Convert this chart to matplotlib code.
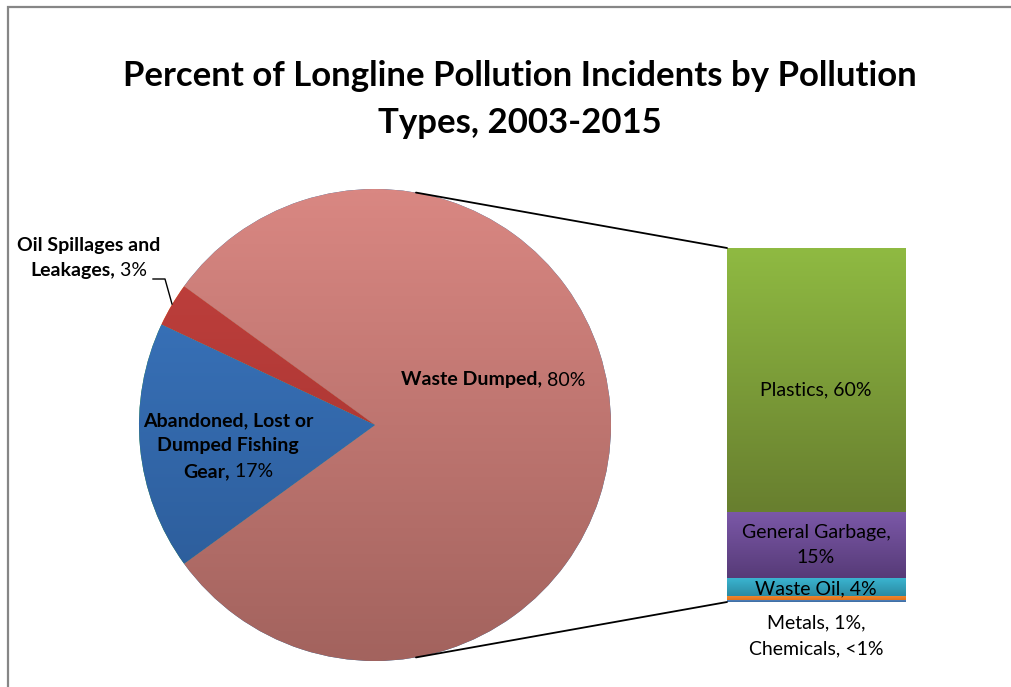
import numpy as np
import matplotlib
matplotlib.use("Agg")
import matplotlib.pyplot as plt
from matplotlib.patches import Rectangle, ConnectionPatch
from matplotlib.colors import to_rgb

plt.rcParams['font.family'] = ['Lato', 'DejaVu Sans']

# pie data (counterclockwise from the Waste Dumped slice)
pie_labels = ['Waste Dumped', 'Oil Spillages and Leakages', 'Abandoned, Lost or Dumped Fishing Gear']
pie_values = [80, 3, 17]
pie_top = ['#d98782', '#c4423f', '#3c79c4']
pie_bottom = ['#a3635e', '#9c2f2c', '#2a5893']

# bar data (bottom to top, breakdown of Waste Dumped)
bar_labels = ['Chemicals', 'Metals', 'Waste Oil', 'General Garbage', 'Plastics']
bar_values = [0.4, 1, 4, 15, 60]
bar_top = ['#4f81bd', '#f58a32', '#3bb4d0', '#7b58a8', '#8fba42']
bar_bottom = ['#3d6a9e', '#e0731c', '#2a8aa2', '#573b78', '#687f2f']

W, H = 1011, 687


def fx(x):
    return x / W


def fy(y):
    return 1 - y / H


def gradient(ax, patch, top, bottom, extent):
    c1, c2 = np.array(to_rgb(top)), np.array(to_rgb(bottom))
    t = np.linspace(0, 1, 64)[:, None, None]
    img = c1 * (1 - t) + c2 * t
    im = ax.imshow(img, extent=extent, aspect='auto', zorder=patch.get_zorder(),
                   interpolation='bilinear')
    im.set_clip_path(patch)


fig = plt.figure(figsize=(W / 100, H / 100), dpi=100)
renderer = fig.canvas.get_renderer()


def mixed_label(x, y, lines, fs=14, step=25.5):
    # lines: list of (bold part, normal part), centred on x, block centred on y
    y0 = y - step * (len(lines) - 1) / 2
    for i, (b, n) in enumerate(lines):
        yy = y0 + i * step
        tb = fig.text(0, 0, b, fontsize=fs, fontweight='bold', va='center')
        tn = fig.text(0, 0, n, fontsize=fs, va='center')
        wb = tb.get_window_extent(renderer).width if b else 0
        wn = tn.get_window_extent(renderer).width if n else 0
        left = x - (wb + wn) / 2
        tb.set_position((fx(left), fy(yy)))
        tn.set_position((fx(left + wb), fy(yy)))


# chart border
fig.patches.append(Rectangle((fx(7.5), fy(1000)), 2, fy(6.5) - fy(1000),
                             transform=fig.transFigure, fill=False,
                             edgecolor='#868686', linewidth=1.6))

fig.text(fx(520), fy(76), 'Percent of Longline Pollution Incidents by Pollution',
         ha='center', va='center', fontsize=25, fontweight='bold')
fig.text(fx(520), fy(123), 'Types, 2003-2015',
         ha='center', va='center', fontsize=25, fontweight='bold')

# pie
cx, cy, r = 375, 425, 236
ax_pie = fig.add_axes([fx(cx - r), fy(cy + r), 2 * r / W, 2 * r / H])
wedges, _ = ax_pie.pie(pie_values, startangle=-144, counterclock=True,
                       wedgeprops=dict(linewidth=0))
ax_pie.set_xlim(-1, 1)
ax_pie.set_ylim(-1, 1)
ax_pie.set_aspect('equal')
for w, t, b in zip(wedges, pie_top, pie_bottom):
    gradient(ax_pie, w, t, b, (-1, 1, -1, 1))
ax_pie.axis('off')

# stacked bar
bx0, bx1, by0, by1 = 727, 906, 248, 602
ax_bar = fig.add_axes([fx(bx0), fy(by1), (bx1 - bx0) / W, (by1 - by0) / H])
bottoms = np.concatenate([[0], np.cumsum(bar_values)[:-1]])
bars = ax_bar.bar(0, bar_values, bottom=bottoms, width=1, linewidth=0)
total = sum(bar_values)
ax_bar.set_xlim(-0.5, 0.5)
ax_bar.set_ylim(0, total)
for rect, t, b, y0, v in zip(bars, bar_top, bar_bottom, bottoms, bar_values):
    gradient(ax_bar, rect, t, b, (-0.5, 0.5, y0, y0 + v))
ax_bar.axis('off')

# connector lines
ang = np.deg2rad(80)
for sign, yb in [(1, total), (-1, 0)]:
    con = ConnectionPatch(xyA=(np.cos(ang), sign * np.sin(ang)), coordsA=ax_pie.transData,
                          xyB=(-0.5, yb), coordsB=ax_bar.transData,
                          color='black', linewidth=1.3)
    fig.add_artist(con)

# labels
mixed_label(493, 380, [('Waste Dumped,', ' 80%')])
mixed_label(228, 446, [('Abandoned, Lost or', ''), ('Dumped Fishing', ''), ('Gear,', ' 17%')])
mixed_label(89, 258, [('Oil Spillages and', ''), ('Leakages,', ' 3%')])
fig.add_artist(plt.Line2D([fx(153), fx(165), fx(172)], [fy(279), fy(279), fy(304)],
                          color='black', linewidth=1))

mixed_label(816, 390, [('', 'Plastics, 60%')])
mixed_label(816, 545, [('', 'General Garbage,'), ('', '15%')])
mixed_label(816, 589, [('', 'Waste Oil, 4%')])
mixed_label(816, 636, [('', 'Metals, 1%,'), ('', 'Chemicals, <1%')])

fig.savefig('out.png', dpi=100)
